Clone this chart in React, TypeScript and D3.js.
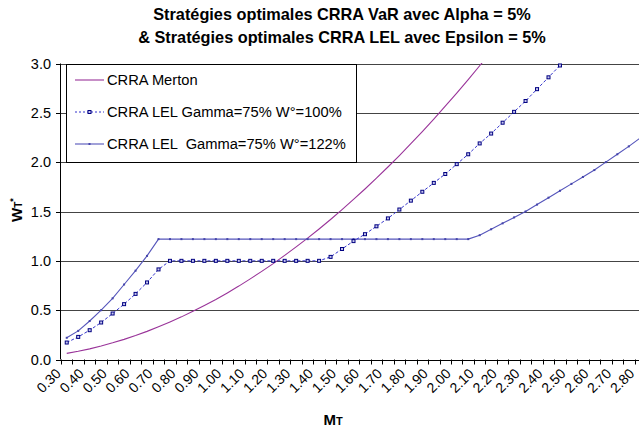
import React from "react";
import * as d3 from "d3";

const categories = [
  "0.30","0.35","0.40","0.45","0.50","0.55","0.60","0.65","0.70","0.75",
  "0.80","0.85","0.90","0.95","1.00","1.05","1.10","1.15","1.20","1.25",
  "1.30","1.35","1.40","1.45","1.50","1.55","1.60","1.65","1.70","1.75",
  "1.80","1.85","1.90","1.95","2.00","2.05","2.10","2.15","2.20","2.25",
  "2.30","2.35","2.40","2.45","2.50","2.55","2.60","2.65","2.70","2.75","2.80"
];

const merton = [
  0.062, 0.083, 0.108, 0.137, 0.169, 0.204, 0.243, 0.285, 0.331, 0.380,
  0.432, 0.488, 0.547, 0.609, 0.675, 0.744, 0.817, 0.893, 0.972, 1.055,
  1.141, 1.230, 1.323, 1.419, 1.519, 1.622, 1.728, 1.838, 1.951, 2.067,
  2.187, 2.310, 2.437, 2.567, 2.700, 2.837, 2.977, 3.120
];

const lel100 = [
  0.172, 0.229, 0.297, 0.375, 0.466, 0.561, 0.665, 0.781, 0.913, 1.0,
  1.0, 1.0, 1.0, 1.0, 1.0, 1.0, 1.0, 1.0, 1.0, 1.0,
  1.0, 1.0, 1.0, 1.04, 1.12, 1.20, 1.27, 1.35, 1.43, 1.52,
  1.61, 1.70, 1.79, 1.88, 1.98, 2.08, 2.19, 2.29, 2.40, 2.51,
  2.62, 2.74, 2.86, 2.98
];

const lel122 = [
  0.22, 0.29, 0.39, 0.50, 0.62, 0.76, 0.90, 1.05, 1.22, 1.22,
  1.22, 1.22, 1.22, 1.22, 1.22, 1.22, 1.22, 1.22, 1.22, 1.22,
  1.22, 1.22, 1.22, 1.22, 1.22, 1.22, 1.22, 1.22, 1.22, 1.22,
  1.22, 1.22, 1.22, 1.22, 1.22, 1.22, 1.26, 1.32, 1.38, 1.44,
  1.50, 1.57, 1.64, 1.71, 1.78, 1.85, 1.92, 2.00, 2.08, 2.16, 2.245
];

const yTicks = [0, 0.5, 1.0, 1.5, 2.0, 2.5, 3.0];

const legendLabels = [
  "CRRA Merton",
  "CRRA LEL Gamma=75% W\u00b0=100%",
  "CRRA LEL  Gamma=75% W\u00b0=122%"
];

const titleLines = [
  "Strat\u00e9gies optimales CRRA VaR avec Alpha = 5%",
  "& Strat\u00e9gies optimales CRRA LEL avec Epsilon = 5%"
];

const W = 639;
const H = 432;
const left = 61;
const right = 646;
const top = 63.5;
const bottom = 359.5;
const font = "'Liberation Sans', Arial, sans-serif";

const C_MERTON = "#993399";
const C_100 = "#3333CC";
const C_100_MARK = "#000080";
const C_122 = "#5555BB";

export default function App() {
  const x = d3.scaleBand<string>().domain(categories).range([left, right]).padding(0);
  const bw = x.bandwidth();
  const cx = (i: number) => (x(categories[i]) as number) + bw / 2;
  const y = d3.scaleLinear().domain([0, 3]).range([bottom, top]);

  const line = d3
    .line<number>()
    .x((_, i) => cx(i))
    .y((d) => y(d));

  const boundaries = d3.range(categories.length + 1).map((k) => left + k * bw);

  return (
    <div style={{ position: "absolute", left: 0, top: 0 }}>
      <svg width={W} height={H} style={{ display: "block", background: "#fff" }}>
        <defs>
          <clipPath id="plotClip">
            <rect x={left} y={top - 0.5} width={right - left} height={bottom - top + 1} />
          </clipPath>
        </defs>
        <rect x={0} y={0} width={W} height={H} fill="#fff" />

        {/* Title */}
        {titleLines.map((t, i) => (
          <text
            key={i}
            x={342}
            y={20 + i * 23}
            textAnchor="middle"
            fontFamily={font}
            fontWeight="bold"
            fontSize={16.3}
            fill="#000"
          >
            {t}
          </text>
        ))}

        {/* Gridlines */}
        {yTicks.slice(1).map((t) => (
          <line
            key={t}
            x1={left}
            x2={right}
            y1={Math.round(y(t)) + 0.5}
            y2={Math.round(y(t)) + 0.5}
            stroke="#444"
            strokeWidth={1}
          />
        ))}

        {/* Series */}
        <g clipPath="url(#plotClip)">
          <path d={line(merton) || ""} fill="none" stroke={C_MERTON} strokeWidth={1.1} />
          <path d={line(lel122) || ""} fill="none" stroke={C_122} strokeWidth={1.1} />
          {lel122.map((d, i) => (
            <rect key={"m122" + i} x={cx(i) - 1} y={y(d) - 1} width={2} height={2} fill="#4444AA" />
          ))}
          <path
            d={line(lel100) || ""}
            fill="none"
            stroke={C_100}
            strokeWidth={1}
            strokeDasharray="3,2"
          />
          {lel100.map((d, i) => (
            <rect
              key={"m100" + i}
              x={cx(i) - 1.5}
              y={y(d) - 1.5}
              width={3}
              height={3}
              fill="#C8C8F0"
              stroke={C_100_MARK}
              strokeWidth={1}
            />
          ))}
        </g>

        {/* Legend */}
        <rect x={66.5} y={Math.round(y(3)) + 0.5} width={290} height={Math.round(y(2)) - Math.round(y(3))} fill="#fff" stroke="#000" strokeWidth={1} />
        {legendLabels.map((lab, i) => {
          const ly = 80 + i * 32;
          return (
            <g key={lab}>
              {i === 0 && <line x1={75} x2={104} y1={ly} y2={ly} stroke={C_MERTON} strokeWidth={1.1} />}
              {i === 1 && (
                <g>
                  <line x1={75} x2={104} y1={ly} y2={ly} stroke={C_100} strokeWidth={1} strokeDasharray="2,2" />
                  <rect x={88} y={ly - 1.5} width={3} height={3} fill="#C8C8F0" stroke={C_100_MARK} strokeWidth={1} />
                </g>
              )}
              {i === 2 && (
                <g>
                  <line x1={75} x2={104} y1={ly} y2={ly} stroke={C_122} strokeWidth={1.1} />
                  <rect x={88.5} y={ly - 1} width={2} height={2} fill="#4444AA" />
                </g>
              )}
              <text x={107} y={ly + 5} fontFamily={font} fontSize={14.7} fill="#000" style={{ whiteSpace: "pre" }}>
                {lab}
              </text>
            </g>
          );
        })}

        {/* Y axis */}
        <line x1={left - 0.5} x2={left - 0.5} y1={top} y2={bottom} stroke="#000" strokeWidth={1} />
        {yTicks.map((t) => (
          <g key={"yt" + t}>
            <line x1={56} x2={left} y1={Math.round(y(t)) + 0.5} y2={Math.round(y(t)) + 0.5} stroke="#000" strokeWidth={1} />
            <text x={51} y={y(t) + 5} textAnchor="end" fontFamily={font} fontSize={14.5} fill="#000">
              {t.toFixed(1)}
            </text>
          </g>
        ))}

        {/* X axis */}
        <line x1={left - 1} x2={right} y1={Math.round(bottom) + 0.5} y2={Math.round(bottom) + 0.5} stroke="#000" strokeWidth={1} />
        {boundaries.map((bx, k) => (
          <line key={"xt" + k} x1={Math.round(bx) + 0.5} x2={Math.round(bx) + 0.5} y1={bottom} y2={bottom + 5} stroke="#000" strokeWidth={1} />
        ))}
        {categories.map((c, i) =>
          i % 2 === 0 ? (
            <text
              key={"xl" + c}
              transform={`translate(${cx(i) - 12},${bottom + 8}) rotate(-45)`}
              textAnchor="end"
              dy="0.71em"
              fontFamily={font}
              fontSize={14}
              fill="#000"
            >
              {c}
            </text>
          ) : null
        )}

        {/* Axis titles */}
        <text x={333} y={425} textAnchor="middle" fontFamily={font} fontWeight="bold" fill="#000">
          <tspan fontSize={15}>M</tspan>
          <tspan fontSize={11}>T</tspan>
        </text>
        <text
          transform={`translate(22,210) rotate(-90)`}
          textAnchor="middle"
          fontFamily={font}
          fontWeight="bold"
          fill="#000"
        >
          <tspan fontSize={15}>W</tspan>
          <tspan fontSize={10}>T</tspan>
          <tspan fontSize={9} dy={-6}>*</tspan>
        </text>
      </svg>
    </div>
  );
}
